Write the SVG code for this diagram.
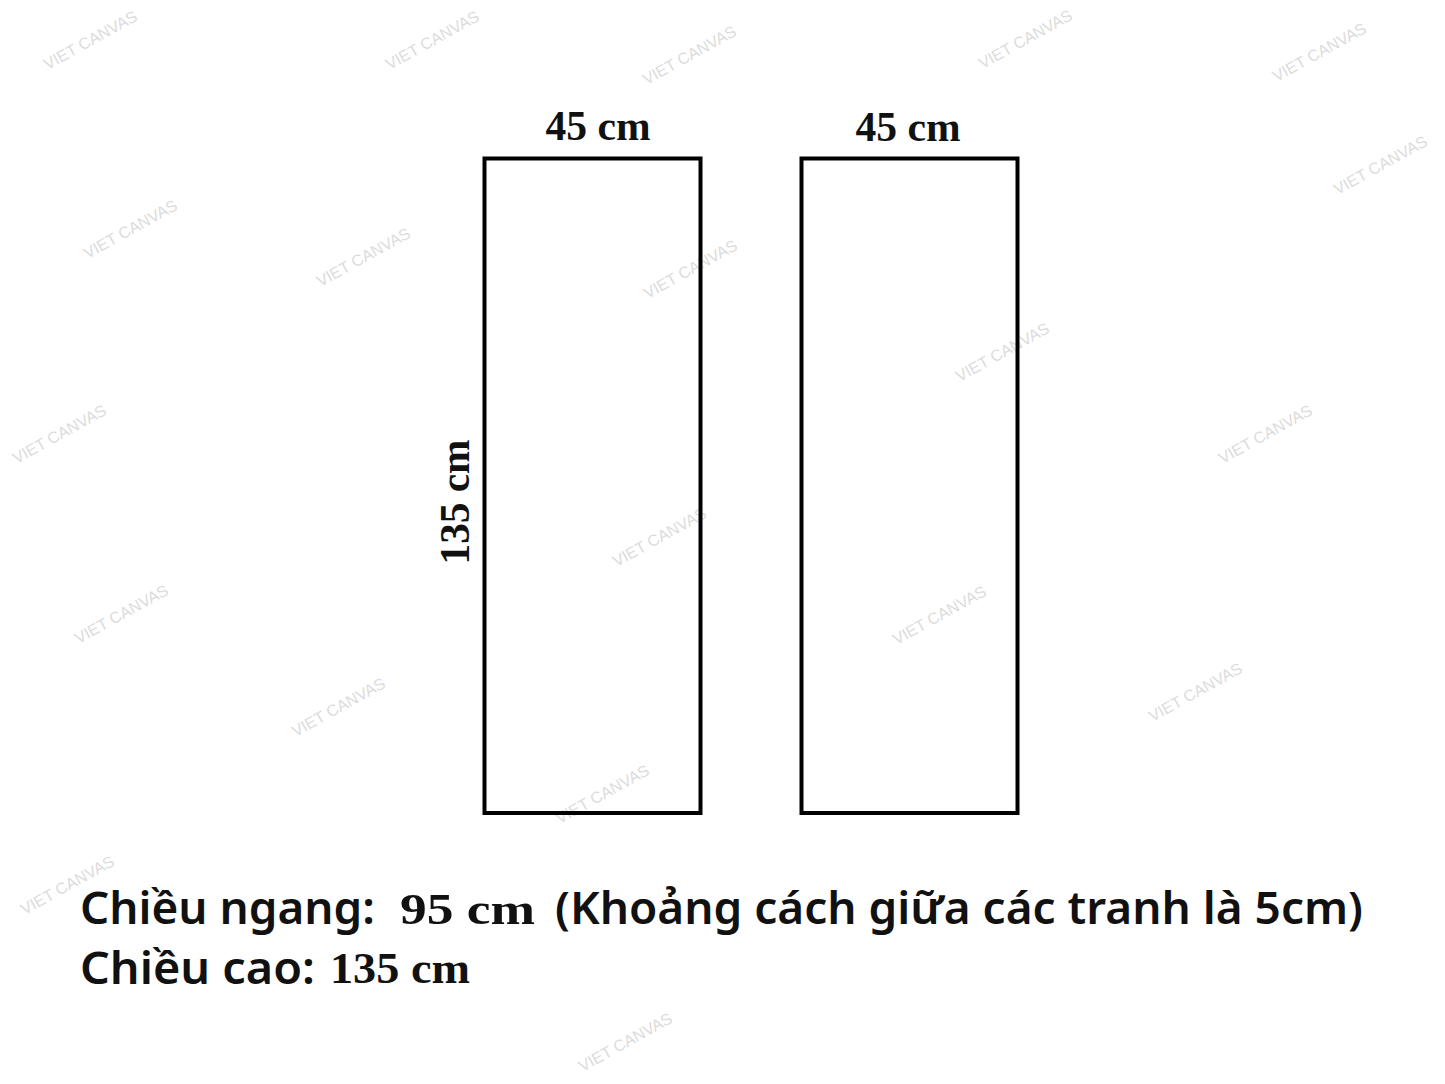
<svg xmlns="http://www.w3.org/2000/svg" width="1445" height="1084" viewBox="0 0 1445 1084">
<style>
.wm{font-family:"Liberation Sans",Arial,sans-serif;font-size:16px;fill:#dcdcdc;text-anchor:middle}
.panel{fill:none;stroke:#000;stroke-width:4}
.dim{font-family:"Liberation Serif","Times New Roman",serif;font-weight:bold;font-size:42px;fill:#111;text-anchor:middle}
.sans{font-family:"Noto Sans","Open Sans",sans-serif;font-weight:600;font-size:45px;fill:#111}
.serif{font-family:"Liberation Serif","Times New Roman",serif;font-weight:bold;font-size:45px;fill:#111}
</style>
<rect width="1445" height="1084" fill="#fff"/>
<g id="watermarks">
<text class="wm" transform="translate(93,45) rotate(-29)">VIET CANVAS</text>
<text class="wm" transform="translate(435,45) rotate(-29)">VIET CANVAS</text>
<text class="wm" transform="translate(692,60) rotate(-29)">VIET CANVAS</text>
<text class="wm" transform="translate(1028,44) rotate(-29)">VIET CANVAS</text>
<text class="wm" transform="translate(1322,57) rotate(-29)">VIET CANVAS</text>
<text class="wm" transform="translate(1383,170) rotate(-29)">VIET CANVAS</text>
<text class="wm" transform="translate(133,234) rotate(-29)">VIET CANVAS</text>
<text class="wm" transform="translate(366,262) rotate(-29)">VIET CANVAS</text>
<text class="wm" transform="translate(693,274) rotate(-29)">VIET CANVAS</text>
<text class="wm" transform="translate(1005,357) rotate(-29)">VIET CANVAS</text>
<text class="wm" transform="translate(62,439) rotate(-29)">VIET CANVAS</text>
<text class="wm" transform="translate(1268,439) rotate(-29)">VIET CANVAS</text>
<text class="wm" transform="translate(662,542) rotate(-29)">VIET CANVAS</text>
<text class="wm" transform="translate(124,619) rotate(-29)">VIET CANVAS</text>
<text class="wm" transform="translate(942,620) rotate(-29)">VIET CANVAS</text>
<text class="wm" transform="translate(341,712) rotate(-29)">VIET CANVAS</text>
<text class="wm" transform="translate(1198,697) rotate(-29)">VIET CANVAS</text>
<text class="wm" transform="translate(605,799) rotate(-29)">VIET CANVAS</text>
<text class="wm" transform="translate(70,890) rotate(-29)">VIET CANVAS</text>
<text class="wm" transform="translate(628,1047) rotate(-29)">VIET CANVAS</text>
</g>
<g id="panel-left">
<rect class="panel" x="484.5" y="158.5" width="216" height="654.5"/>
<text class="dim" x="598" y="140" textLength="105" lengthAdjust="spacingAndGlyphs">45 cm</text>
<text class="dim" transform="translate(469,502) rotate(-90)" textLength="125" lengthAdjust="spacingAndGlyphs">135 cm</text>
</g>
<g id="panel-right">
<rect class="panel" x="801.5" y="158.5" width="216" height="654.5"/>
<text class="dim" x="908" y="141" textLength="105" lengthAdjust="spacingAndGlyphs">45 cm</text>
</g>
<g id="caption">
<text class="sans" x="80" y="924" textLength="295" lengthAdjust="spacingAndGlyphs">Chiều ngang:</text>
<text class="serif" x="400" y="924" textLength="135" lengthAdjust="spacingAndGlyphs">95 cm</text>
<text class="sans" x="555" y="924" textLength="808" lengthAdjust="spacingAndGlyphs">(Khoảng cách giữa các tranh là 5cm)</text>
<text class="sans" x="80" y="984" textLength="235" lengthAdjust="spacingAndGlyphs">Chiều cao:</text>
<text class="serif" x="330" y="983" textLength="140" lengthAdjust="spacingAndGlyphs">135 cm</text>
</g>
</svg>
